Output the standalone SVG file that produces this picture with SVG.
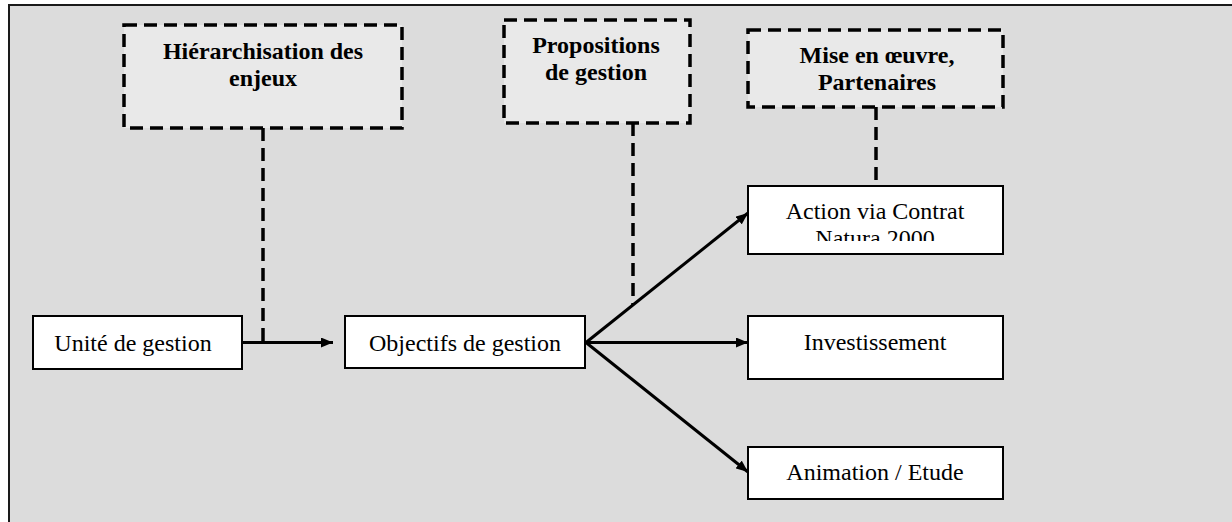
<svg xmlns="http://www.w3.org/2000/svg" width="1232" height="522" viewBox="0 0 1232 522">
<style>
.t{font-family:"Liberation Serif","Times New Roman",serif;font-size:24px;fill:#000;text-anchor:middle}
.b{font-weight:bold}
.box{fill:#fff;stroke:#000;stroke-width:2}
.dbox{fill:#e9e9e9;stroke:#000;stroke-width:3.5;stroke-dasharray:13 7}
.dl{fill:none;stroke:#000;stroke-width:3.5;stroke-dasharray:13 7}
.ar{fill:none;stroke:#000;stroke-width:3;marker-end:url(#ah)}
</style>
<defs>
<marker id="ah" markerWidth="12" markerHeight="10" refX="12" refY="5" orient="auto" markerUnits="userSpaceOnUse">
<path d="M0,0 L12,5 L0,10 Z" fill="#000"/>
</marker>
<clipPath id="clipA"><rect x="748" y="186" width="255" height="55"/></clipPath>
</defs>
<rect x="0" y="0" width="1232" height="522" fill="#fff"/>
<rect x="9" y="5" width="1240" height="530" fill="#dcdcdc" stroke="#1a1a1a" stroke-width="2"/>
<g id="connectors">
<line class="dl" x1="263" y1="128" x2="263" y2="342"/>
<line class="dl" x1="633" y1="123" x2="633" y2="305"/>
<line class="dl" x1="876" y1="107" x2="876" y2="183"/>
<line class="ar" x1="242" y1="342.5" x2="333" y2="342.5"/>
<line class="ar" x1="586" y1="342.5" x2="748" y2="213"/>
<line class="ar" x1="586" y1="342.5" x2="748" y2="342.5"/>
<line class="ar" x1="586" y1="342.5" x2="748" y2="472"/>
</g>
<g id="hierarchisation">
<rect class="dbox" x="124" y="25" width="278" height="103"/>
<text class="t b" x="263" y="59">Hiérarchisation des</text>
<text class="t b" x="263" y="86">enjeux</text>
</g>
<g id="propositions">
<rect class="dbox" x="504" y="20" width="186" height="103"/>
<text class="t b" x="596" y="53">Propositions</text>
<text class="t b" x="596" y="80">de gestion</text>
</g>
<g id="miseenoeuvre">
<rect class="dbox" x="748" y="30" width="255" height="77"/>
<text class="t b" x="877" y="63">Mise en œuvre,</text>
<text class="t b" x="877" y="90">Partenaires</text>
</g>
<g id="unite">
<rect class="box" x="33" y="316" width="209" height="53"/>
<text class="t" x="133" y="351">Unité de gestion</text>
</g>
<g id="objectifs">
<rect class="box" x="345" y="316" width="240" height="52"/>
<text class="t" x="465" y="351">Objectifs de gestion</text>
</g>
<g id="action">
<rect class="box" x="748" y="186" width="255" height="68"/>
<g clip-path="url(#clipA)">
<text class="t" x="875" y="219">Action via Contrat</text>
<text class="t" x="875" y="246">Natura 2000</text>
</g>
</g>
<g id="investissement">
<rect class="box" x="748" y="316" width="255" height="63"/>
<text class="t" x="875" y="350">Investissement</text>
</g>
<g id="animation">
<rect class="box" x="748" y="447" width="255" height="52"/>
<text class="t" x="875" y="480">Animation / Etude</text>
</g>
</svg>
